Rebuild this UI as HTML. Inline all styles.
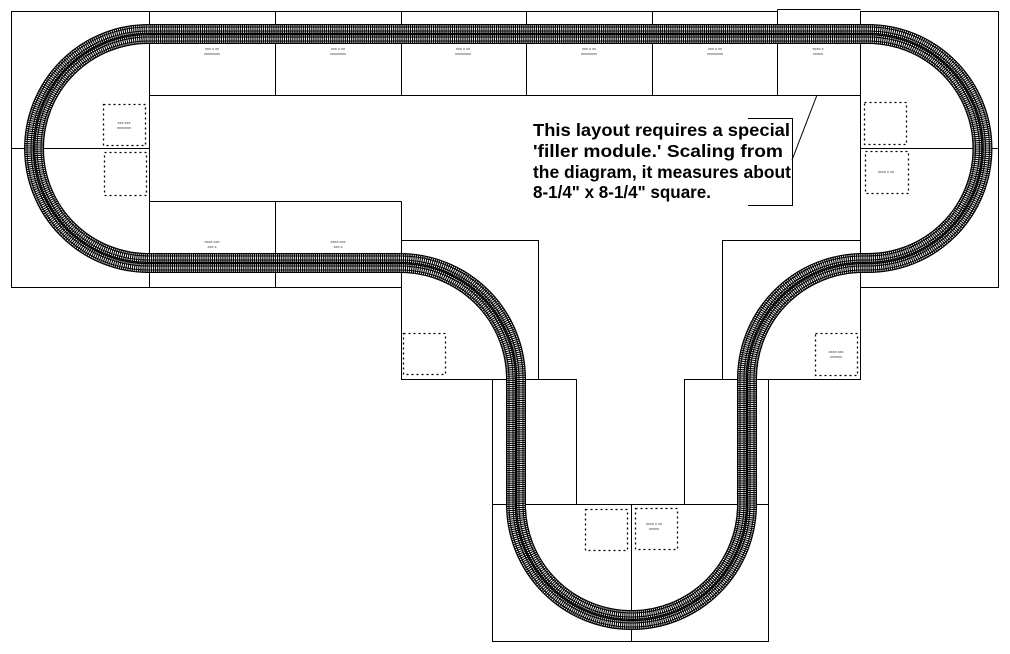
<!DOCTYPE html>
<html><head><meta charset="utf-8"><style>html,body{margin:0;padding:0;background:#fff}svg{display:block}</style></head>
<body>
<svg width="1010" height="654" viewBox="0 0 1010 654" xmlns="http://www.w3.org/2000/svg">
<g fill="none" stroke="#000" stroke-width="1">
<rect x="11.5" y="11.5" width="138" height="276"/>
<line x1="11.5" y1="148.5" x2="149.5" y2="148.5"/>
<rect x="860.5" y="11.5" width="138" height="276"/>
<line x1="860.5" y1="148.5" x2="998.5" y2="148.5"/>
<line x1="149.5" y1="11.5" x2="777.5" y2="11.5"/>
<line x1="777.5" y1="9.5" x2="860.5" y2="9.5"/>
<line x1="777.5" y1="9.5" x2="777.5" y2="95.5"/>
<line x1="149.5" y1="95.5" x2="860.5" y2="95.5"/>
<line x1="275.5" y1="11.5" x2="275.5" y2="95.5"/>
<line x1="401.5" y1="11.5" x2="401.5" y2="95.5"/>
<line x1="526.5" y1="11.5" x2="526.5" y2="95.5"/>
<line x1="652.5" y1="11.5" x2="652.5" y2="95.5"/>
<line x1="149.5" y1="201.5" x2="401.5" y2="201.5"/>
<line x1="275.5" y1="201.5" x2="275.5" y2="287.5"/>
<line x1="149.5" y1="287.5" x2="401.5" y2="287.5"/>
<line x1="401.5" y1="201.5" x2="401.5" y2="379.5"/>
<rect x="401.5" y="240.5" width="137" height="139"/>
<rect x="492.5" y="379.5" width="84" height="125"/>
<rect x="492.5" y="504.5" width="276" height="137"/>
<line x1="631.5" y1="504.5" x2="631.5" y2="641.5"/>
<rect x="684.5" y="379.5" width="84" height="125"/>
<rect x="722.5" y="240.5" width="138" height="139"/>
<g stroke-dasharray="2 3" stroke-width="1.3">
<rect x="103.5" y="104.5" width="42" height="41"/>
<rect x="104.5" y="152.5" width="42" height="43"/>
<rect x="864.5" y="102.5" width="42" height="42"/>
<rect x="865.5" y="151.5" width="43" height="42"/>
<rect x="403.5" y="333.5" width="42" height="41"/>
<rect x="815.5" y="333.5" width="42" height="42"/>
<rect x="585.5" y="509.5" width="42" height="41"/>
<rect x="635.5" y="508.5" width="42" height="41"/>
</g>
<polyline points="748,118.5 792.5,118.5 792.5,205.5 748,205.5"/>
<line x1="792" y1="160" x2="817" y2="95"/>
</g>
<defs>
<path id="t1" d="M148.5,29 L868,29 A119.5,119.5 0 0 1 868,268 L863,268 A111,111 0 0 0 752,379 L752,504.5 A120.5,120.5 0 0 1 511,504.5 L511,379 A111,111 0 0 0 400,268 L148.5,268 A119.5,119.5 0 0 1 148.5,29 Z"/>
<path id="t2" d="M148.5,39 L868,39 A109.5,109.5 0 0 1 868,258 L863,258 A121,121 0 0 0 742,379 L742,504.5 A110.5,110.5 0 0 1 521,504.5 L521,379 A121,121 0 0 0 400,258 L148.5,258 A109.5,109.5 0 0 1 148.5,39 Z"/>
</defs>
<g fill="none">
<use href="#t1" stroke="#000" stroke-width="10"/>
<use href="#t1" stroke="#fff" stroke-width="7.5" stroke-dasharray="1 1.1"/>
<use href="#t1" stroke="#000" stroke-width="5"/>
<use href="#t1" stroke="#fff" stroke-width="3" stroke-dasharray="1 1.1"/>
<use href="#t2" stroke="#000" stroke-width="10"/>
<use href="#t2" stroke="#fff" stroke-width="7.5" stroke-dasharray="1 1.1"/>
<use href="#t2" stroke="#000" stroke-width="5"/>
<use href="#t2" stroke="#fff" stroke-width="3" stroke-dasharray="1 1.1"/>
</g>
<g font-family="Liberation Sans, sans-serif" font-size="4" fill="#333" text-anchor="middle">
<text x="212" y="50">xxx x xx</text><text x="212" y="55">xxxxxxxx</text>
<text x="338" y="50">xxx x xx</text><text x="338" y="55">xxxxxxxx</text>
<text x="463" y="50">xxx x xx</text><text x="463" y="55">xxxxxxxx</text>
<text x="589" y="50">xxx x xx</text><text x="589" y="55">xxxxxxxx</text>
<text x="715" y="50">xxx x xx</text><text x="715" y="55">xxxxxxxx</text>
<text x="818" y="50">xxxx x</text><text x="818" y="55">xxxxx</text>
<text x="212" y="243">xxxx xxx</text><text x="212" y="248">xxx x</text>
<text x="338" y="243">xxxx xxx</text><text x="338" y="248">xxx x</text>
<text x="124" y="124">xxx xxx</text><text x="124" y="129">xxxxxxx</text>
<text x="654" y="525">xxxx x xx</text><text x="654" y="530">xxxxx</text>
<text x="886" y="173">xxxx x xx</text>
<text x="836" y="353">xxxx xxx</text><text x="836" y="358">xxxxxx</text>
</g>
<g font-family="Liberation Sans, Arial, sans-serif" font-size="17.5" font-weight="bold" fill="#000">
<text x="533" y="136" textLength="257" lengthAdjust="spacingAndGlyphs">This layout requires a special</text>
<text x="533" y="157" textLength="250" lengthAdjust="spacingAndGlyphs">'filler module.'  Scaling from</text>
<text x="533" y="178" textLength="258" lengthAdjust="spacingAndGlyphs">the diagram, it measures about</text>
<text x="533" y="198" textLength="178" lengthAdjust="spacingAndGlyphs">8-1/4" x 8-1/4" square.</text>
</g>
</svg>
</body></html>
